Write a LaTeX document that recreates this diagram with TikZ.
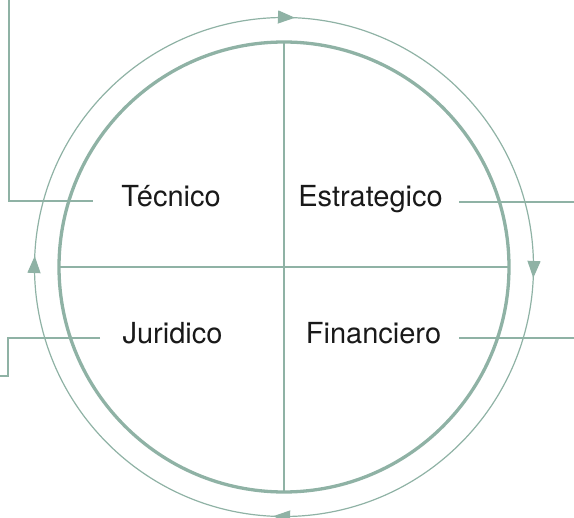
\documentclass[tikz,border=0pt]{standalone}
\usepackage{fontspec}
\setmainfont{TeX Gyre Heros}
\usetikzlibrary{decorations.markings,arrows.meta}
\definecolor{sage}{RGB}{143,178,165}
\definecolor{ink}{RGB}{25,25,25}
\begin{document}
\begin{tikzpicture}[x=1pt,y=-1pt,
  rule/.style={draw=sage,line width=1.3pt},
  lbl/.style={font=\fontsize{29}{32}\selectfont, text=ink, inner sep=0pt, anchor=base}]
\useasboundingbox (0,0) rectangle (574,518);
\coordinate (C) at (284,267);
% circles
\draw[sage, line width=3.3pt] (C) circle[radius=225];
\draw[sage, line width=1.2pt, postaction={decorate},
  decoration={markings,
    mark=at position 0.007 with {\arrow[sage]{Triangle[length=17pt,width=13pt]}},
    mark=at position 0.257 with {\arrow[sage]{Triangle[length=17pt,width=13pt]}},
    mark=at position 0.507 with {\arrow[sage]{Triangle[length=17pt,width=13pt]}},
    mark=at position 0.757 with {\arrow[sage]{Triangle[length=17pt,width=13pt]}}}]
  (C) ++(-90:249.5) arc[start angle=-90, end angle=270, radius=249.5];
% dividers
\coordinate (W) at (59,267);
\coordinate (E) at (509,267);
\coordinate (N) at (284,42);
\coordinate (S) at (284,492);
\draw[rule] (W) -- (E);
\draw[rule] (N) -- (S);
% labels
\node[lbl] (tec) at (171,207) {Técnico};
\node[lbl] (est) at (370.5,207) {Estrategico};
\node[lbl] (jur) at (172.5,344) {Juridico};
\node[lbl] (fin) at (373.5,344) {Financiero};
% leader lines
\coordinate (t0) at (9,0);
\coordinate (t1) at (9,201);
\coordinate (t2) at (93,201);
\draw[rule] (t0) -- (t1) -- (t2);
\coordinate (e1) at (459,202);
\coordinate (e2) at (574,202);
\draw[rule] (e1) -- (e2);
\coordinate (j1) at (100,338);
\coordinate (j2) at (8,338);
\coordinate (j3) at (8,376);
\coordinate (j4) at (0,376);
\draw[rule] (j1) -- (j2) -- (j3) -- (j4);
\coordinate (f1) at (459,338);
\coordinate (f2) at (574,338);
\draw[rule] (f1) -- (f2);
\end{tikzpicture}
\end{document}
